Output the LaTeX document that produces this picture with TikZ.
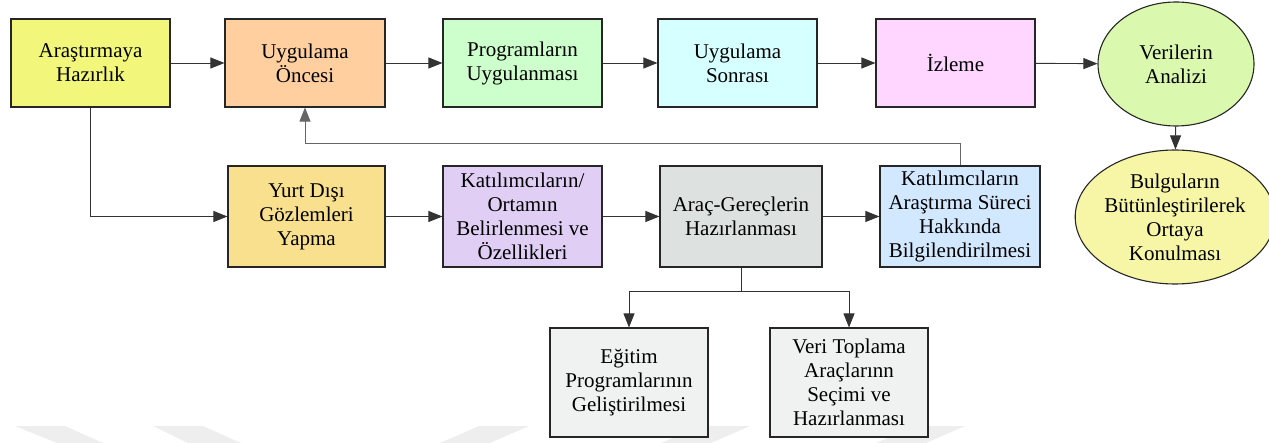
\documentclass[tikz,border=0pt]{standalone}
\usepackage{fontspec}
\setmainfont{Liberation Serif}
\usetikzlibrary{arrows.meta,shapes.geometric}
\definecolor{cA}{RGB}{242,246,122}
\definecolor{cB}{RGB}{255,207,160}
\definecolor{cC}{RGB}{204,255,204}
\definecolor{cD}{RGB}{214,255,255}
\definecolor{cE}{RGB}{255,214,255}
\definecolor{cF}{RGB}{218,248,174}
\definecolor{cG}{RGB}{248,224,142}
\definecolor{cH}{RGB}{224,206,245}
\definecolor{cI}{RGB}{221,226,224}
\definecolor{cJ}{RGB}{210,232,255}
\definecolor{cK}{RGB}{246,246,166}
\definecolor{cL}{RGB}{240,242,242}
\definecolor{wm}{RGB}{238,238,238}
\tikzset{
  box/.style={draw=black!85, line width=1.1pt, rectangle, align=center, inner sep=2pt,
    font=\rmfamily\fontsize{21}{24}\selectfont, minimum width=159pt},
  oval/.style={draw=black!85, line width=1.1pt, ellipse, align=center, inner sep=0pt,
    font=\rmfamily\fontsize{21}{24}\selectfont},
  conn/.style={draw=black!80, line width=0.9pt},
  arr/.style={conn, -{Triangle[length=14pt,width=11pt]}},
}
\begin{document}
\begin{tikzpicture}[x=1pt,y=-1pt]
\useasboundingbox (0,0) rectangle (1269,443);
% faint watermark
\fill[wm] (15,426) -- (65,426) -- (103,443) -- (57,443) -- cycle;
\fill[wm] (153,426) -- (203,426) -- (241,443) -- (188,443) -- cycle;
\fill[wm] (479,426) -- (529,426) -- (490,443) -- (440,443) -- cycle;
\fill[wm] (700,426) -- (750,426) -- (711,443) -- (661,443) -- cycle;
\fill[wm] (915,426) -- (965,426) -- (926,443) -- (876,443) -- cycle;
% top row
\node[box, fill=cA, minimum height=88pt] (a) at (90.5,63) {Araştırmaya\\Hazırlık};
\node[box, fill=cB, minimum height=88pt, minimum width=160pt] (b) at (305,63) {Uygulama\\Öncesi};
\node[box, fill=cC, minimum height=88pt] (c) at (522.5,63) {Programların\\Uygulanması};
\node[box, fill=cD, minimum height=88pt] (d) at (737.5,63) {Uygulama\\Sonrası};
\node[box, fill=cE, minimum height=88pt] (e) at (955.5,63) {İzleme};
\node[oval, fill=cF, minimum width=156pt, minimum height=124pt] (f) at (1176,64) {Verilerin\\Analizi};
% second row
\node[box, fill=cG, minimum height=101pt, minimum width=157pt] (g) at (306.5,216.5) {Yurt Dışı\\Gözlemleri\\Yapma};
\node[box, fill=cH, minimum height=101pt] (h) at (522.5,216.5) {Katılımcıların/\\Ortamın\\Belirlenmesi ve\\Özellikleri};
\node[box, fill=cI, minimum height=101pt, minimum width=162pt] (i) at (741,216.5) {Araç-Gereçlerin\\Hazırlanması};
\node[box, fill=cJ, minimum height=101pt, minimum width=160pt] (j) at (960,216.5) {Katılımcıların\\Araştırma Süreci\\Hakkında\\Bilgilendirilmesi};
\node[oval, fill=cK, minimum width=164pt, minimum height=134pt] (k) at (1175,217) {Bulguların\\Bütünleştirilerek\\Ortaya\\Konulması};
% third row
\node[box, fill=cL, minimum height=109pt, minimum width=158pt] (l) at (629,382.5) {Eğitim\\Programlarının\\Geliştirilmesi};
\node[box, fill=cL, minimum height=109pt, minimum width=158pt] (m) at (849,382.5) {Veri Toplama\\Araçlarınn\\Seçimi ve\\Hazırlanması};
% connectors
\draw[arr] (a) -- (b);
\draw[arr] (b) -- (c);
\draw[arr] (c) -- (d);
\draw[arr] (d) -- (e);
\draw[arr] (e) -- (f);
\draw[arr] (f) -- (k);
\draw[arr] (a.south) |- (g.west);
\draw[arr] (g) -- (h);
\draw[arr] (h) -- (i);
\draw[arr] (i) -- (j);
\coordinate (r) at (960,143);
\draw[arr, draw=black!60] (j.north) -- (r) -| (b.south);
\coordinate (br) at (741,291);
\draw[conn] (i.south) -- (br);
\draw[arr] (br) -| (l.north);
\draw[arr] (br) -| (m.north);
\end{tikzpicture}
\end{document}
